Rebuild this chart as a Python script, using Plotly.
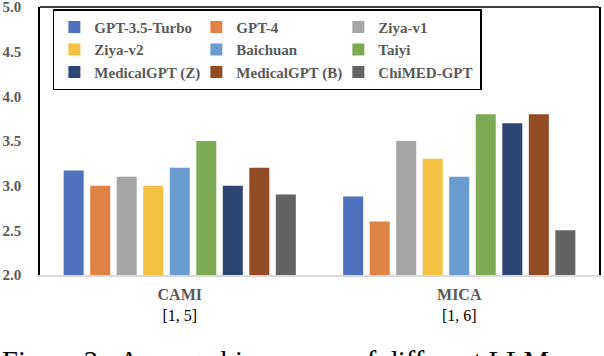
import plotly.graph_objects as go

# benchmarks (x categories) and the score range shown under each
benchmarks = ["CAMI", "MICA"]
score_ranges = ["[1, 5]", "[1, 6]"]

models = [
    "GPT-3.5-Turbo",
    "GPT-4",
    "Ziya-v1",
    "Ziya-v2",
    "Baichuan",
    "Taiyi",
    "MedicalGPT (Z)",
    "MedicalGPT (B)",
    "ChiMED-GPT",
]

# average bias scores per model, [CAMI, MICA]
gpt35_turbo = [3.17, 2.88]
gpt4 = [3.0, 2.6]
ziya_v1 = [3.1, 3.5]
ziya_v2 = [3.0, 3.3]
baichuan = [3.2, 3.1]
taiyi = [3.5, 3.8]
medicalgpt_z = [3.0, 3.7]
medicalgpt_b = [3.2, 3.8]
chimed_gpt = [2.9, 2.5]

y_ticks = [2.0, 2.5, 3.0, 3.5, 4.0, 4.5, 5.0]

scores = [
    gpt35_turbo, gpt4, ziya_v1, ziya_v2, baichuan,
    taiyi, medicalgpt_z, medicalgpt_b, chimed_gpt,
]
colors = [
    "#4E72BE", "#E08245", "#A5A5A5", "#F5C142", "#6A9CD0",
    "#7FAA55", "#2D4573", "#924B22", "#636363",
]

SERIF = "Liberation Serif, Times New Roman, serif"
GRAY = "#595959"

fig = go.Figure()
for name, vals, color in zip(models, scores, colors):
    fig.add_trace(
        go.Bar(x=benchmarks, y=vals, name=name, marker_color=color, marker_line_width=0)
    )

tick_text = [
    f"<b>{b}</b><br><span style='color:black'>{r}</span>"
    for b, r in zip(benchmarks, score_ranges)
]

fig.update_layout(
    width=604,
    height=356,
    margin={"l": 40, "r": 5, "t": 7, "b": 81},
    paper_bgcolor="white",
    plot_bgcolor="white",
    barmode="group",
    bargap=0.146,
    bargroupgap=0.245,
    font=dict(family=SERIF, color=GRAY, size=15),
    legend=dict(
        orientation="h",
        x=0.023,
        xanchor="left",
        y=0.992,
        yanchor="top",
        bordercolor="black",
        borderwidth=1.5,
        bgcolor="white",
        entrywidth=97,
        entrywidthmode="pixels",
        itemwidth=30,
        font=dict(family=SERIF, color=GRAY, size=15, weight="bold"),
        traceorder="normal",
    ),
)

fig.update_xaxes(
    tickvals=benchmarks,
    ticktext=tick_text,
    tickfont=dict(family=SERIF, color=GRAY, size=16),
    ticklabelstandoff=4,
    automargin=False,
    showline=True,
    linecolor="#D9D9D9",
    linewidth=1.5,
    ticks="",
    showgrid=False,
)
fig.update_yaxes(
    range=[2.0, 5.0],
    tickvals=y_ticks,
    tickformat=".1f",
    tickfont=dict(family=SERIF, color=GRAY, size=15, weight="bold"),
    ticklabelstandoff=14,
    ticklabeloverflow="allow",
    automargin=False,
    showline=True,
    linecolor="black",
    linewidth=1.5,
    mirror=True,
    showgrid=False,
    zeroline=False,
)

# top edge of the frame
fig.add_shape(
    type="line", xref="paper", yref="paper",
    x0=0, x1=1, y0=1, y1=1,
    line=dict(color="black", width=1.5),
)

# paper caption, cut off by the bottom of the image
fig.add_annotation(
    text="Figure 2:  Average bias scores of different LLMs on",
    xref="paper", yref="paper",
    x=-40 / 559, xanchor="left",
    y=-(344 - 275) / 268, yanchor="top",
    showarrow=False,
    font=dict(family=SERIF, color="black", size=28.6),
)

# page body has a default 8px margin; drop it so the figure sits at the corner
fig.write_html(
    "out.html",
    config={"displayModeBar": False},
    post_script="document.body.style.margin = '0';",
)
